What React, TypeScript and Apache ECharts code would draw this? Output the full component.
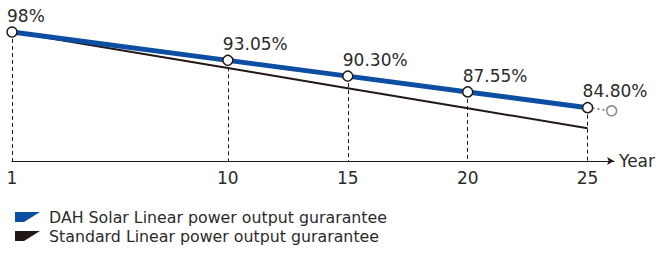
import React, { useEffect, useRef } from "react";
import * as echarts from "echarts";

const years = [1, 10, 15, 20, 25];
const dahValues = [98, 93.05, 90.3, 87.55, 84.8];
const standardValues = [98, 91.7, 88.2, 84.7, 81.2];
const extensionYears = [25, 26];
const extensionValues = [84.8, 84.25];
const seriesNames = ["DAH Solar Linear power output gurarantee", "Standard Linear power output gurarantee"];

const FONT = "DejaVu Sans";
const BLUE = "#0b4ea2";
const DARK = "#231815";
const TEXT = "#2b2b2b";

export default function App() {
  const ref = useRef<HTMLDivElement>(null);
  useEffect(() => {
    if (!ref.current) return;
    const chart = echarts.init(ref.current, undefined, { renderer: "svg" });
    const yMin = 75.5;
    const dahData = years.map((y, i) => [y, dahValues[i]]);
    const stdData = years.map((y, i) => [y, standardValues[i]]);
    const extData = extensionYears.map((y, i) => ({
      value: [y, extensionValues[i]],
      symbol: i === 0 ? "none" : "circle",
    }));
    const icon = "path://M0,0 L25,0 L9,10 L0,10 Z";
    chart.setOption({
      animation: false,
      grid: { left: 12, right: 55, top: 20.5, bottom: 92, containLabel: false },
      legend: {
        orient: "vertical",
        left: 10,
        top: 204,
        itemWidth: 25,
        itemHeight: 10,
        itemGap: 3,
        textStyle: { fontFamily: FONT, fontSize: 15.8, color: TEXT, padding: [0, 0, 0, 4] },
        data: [
          { name: seriesNames[0], icon, itemStyle: { color: BLUE, borderWidth: 0 } },
          { name: seriesNames[1], icon, itemStyle: { color: DARK, borderWidth: 0 } },
        ],
      },
      xAxis: {
        type: "value",
        min: 1,
        max: 26.1,
        name: "Year",
        nameLocation: "end",
        nameGap: 5,
        nameTextStyle: { fontFamily: FONT, fontSize: 17, color: TEXT },
        axisLine: {
          show: true,
          symbol: ["none", "arrow"],
          symbolSize: [6, 7],
          lineStyle: { color: DARK, width: 1.2 },
        },
        axisTick: { show: false },
        splitLine: { show: false },
        axisLabel: {
          customValues: years,
          margin: 8,
          fontFamily: FONT,
          fontSize: 17,
          color: TEXT,
        },
      },
      yAxis: {
        type: "value",
        min: yMin,
        max: 100,
        show: false,
        splitLine: { show: false },
      },
      series: [
        {
          name: seriesNames[1],
          type: "line",
          data: stdData,
          showSymbol: false,
          symbol: "none",
          lineStyle: { color: DARK, width: 2 },
          itemStyle: { color: DARK },
          z: 2,
        },
        {
          name: "ext",
          type: "line",
          data: extData,
          symbolSize: 10,
          lineStyle: { color: "#8a8a8a", width: 2, type: [2, 3] },
          itemStyle: { color: "#fff", borderColor: "#8a8a8a", borderWidth: 1.5 },
          z: 3,
        },
        {
          name: seriesNames[0],
          type: "line",
          data: dahData,
          symbol: "circle",
          symbolSize: 10,
          lineStyle: { color: BLUE, width: 5 },
          itemStyle: { color: "#fff", borderColor: DARK, borderWidth: 1.5 },
          z: 4,
          label: {
            show: true,
            position: "top",
            align: "left",
            distance: 2,
            offset: [-5, 0],
            fontFamily: FONT,
            fontSize: 17,
            color: TEXT,
            formatter: (p: any) => {
              const v = p.value[1];
              return p.dataIndex === 0 ? v + "%" : v.toFixed(2) + "%";
            },
          },
          markLine: {
            silent: true,
            symbol: "none",
            label: { show: false },
            lineStyle: { color: DARK, width: 1, type: [4, 3] },
            data: dahData.map((d) => [
              { coord: [d[0], d[1]] },
              { coord: [d[0], yMin] },
            ]),
            z: 1,
          },
        },
      ],
    });
    return () => chart.dispose();
  }, []);
  return (
    <div
      ref={ref}
      style={{ position: "fixed", left: 0, top: 0, width: 669, height: 253, background: "#fff" }}
    />
  );
}
